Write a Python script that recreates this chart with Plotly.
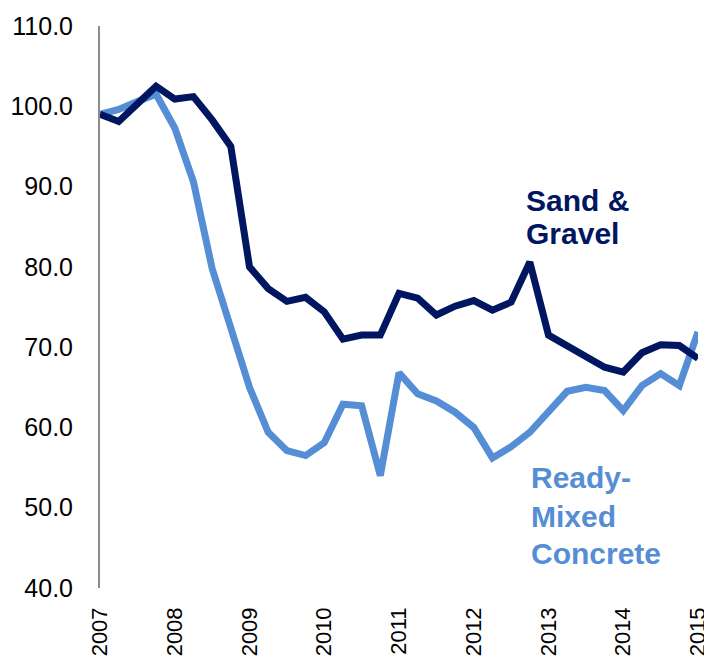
"""Sand & gravel vs ready-mixed concrete index, quarterly 2007-2015."""
import plotly.graph_objects as go

quarters = [
    "2007Q1", "2007Q2", "2007Q3", "2007Q4", "2008Q1", "2008Q2", "2008Q3", "2008Q4",
    "2009Q1", "2009Q2", "2009Q3", "2009Q4", "2010Q1", "2010Q2", "2010Q3", "2010Q4",
    "2011Q1", "2011Q2", "2011Q3", "2011Q4", "2012Q1", "2012Q2", "2012Q3", "2012Q4",
    "2013Q1", "2013Q2", "2013Q3", "2013Q4", "2014Q1", "2014Q2", "2014Q3", "2014Q4",
    "2015Q1",
]
sand_gravel = [
    99.0, 98.1, 100.3, 102.5, 100.9, 101.2, 98.3, 95.0,
    80.0, 77.3, 75.7, 76.2, 74.4, 71.0, 71.5, 71.5,
    76.7, 76.1, 74.0, 75.1, 75.8, 74.6, 75.6, 80.6,
    71.5, 70.2, 68.7, 67.5, 66.9, 69.3, 70.3, 70.2,
    68.6,
]
ready_mixed = [
    99.0, 99.6, 100.6, 101.5, 97.3, 90.6, 79.8, 72.5,
    65.0, 59.4, 57.1, 56.5, 58.1, 62.9, 62.7, 54.0,
    66.8, 64.2, 63.3, 61.9, 60.0, 56.2, 57.6, 59.4,
    61.9, 64.5, 65.0, 64.6, 62.1, 65.2, 66.7, 65.2,
    71.9,
]
year_ticks = ["2007Q1", "2008Q1", "2009Q1", "2010Q1", "2011Q1",
              "2012Q1", "2013Q1", "2014Q1", "2015Q1"]
year_labels = ["2007", "2008", "2009", "2010", "2011", "2012", "2013", "2014", "2015"]

DARK = "#001660"
LIGHT = "#558ED5"

fig = go.Figure()
fig.add_trace(go.Scatter(x=quarters, y=ready_mixed, mode="lines",
                         line=dict(color=LIGHT, width=7), name="Ready-Mixed Concrete"))
fig.add_trace(go.Scatter(x=quarters, y=sand_gravel, mode="lines",
                         line=dict(color=DARK, width=7), name="Sand & Gravel"))

# series labels, one annotation per line so the line spacing can be tight
labels = [
    ("Sand &amp;", 0.709, 0.690, DARK),
    ("Gravel", 0.709, 0.630, DARK),
    ("Ready-", 0.718, 0.196, LIGHT),
    ("Mixed", 0.718, 0.128, LIGHT),
    ("Concrete", 0.718, 0.062, LIGHT),
]
for text, px, py, col in labels:
    fig.add_annotation(x=px, y=py, xref="paper", yref="paper", xanchor="left",
                       yanchor="middle", text=f"<b>{text}</b>", showarrow=False,
                       font=dict(family="Arial", size=30, color=col))

# page body has an 8px margin, so the figure is sized to fit inside the window
fig.update_layout(
    width=704, height=654,
    margin=dict(l=92, r=14, t=18, b=74),
    paper_bgcolor="white", plot_bgcolor="white",
    showlegend=False,
    font=dict(family="Arial", size=25, color="black"),
    xaxis=dict(type="category", range=[0, 32], tickvals=year_ticks, ticktext=year_labels,
               tickangle=-90, showgrid=False, showline=False, zeroline=False, ticks="",
               automargin=False, ticklabelstandoff=14, tickfont=dict(size=22)),
    yaxis=dict(range=[40, 110], dtick=10, tickformat=".1f", showgrid=False, zeroline=False,
               showline=True, linecolor="#8c8c8c", linewidth=2, ticks="",
               automargin=False, ticklabelstandoff=20),
)

fig.write_html("out.html")
